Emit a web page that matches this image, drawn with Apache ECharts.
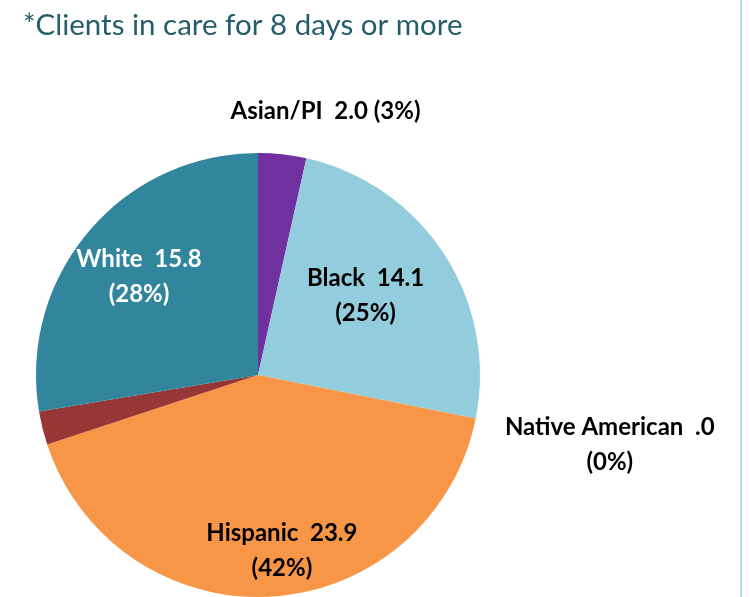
<!DOCTYPE html>
<html>
<head>
<meta charset="utf-8">
<script src="https://cdn.jsdelivr.net/npm/echarts@6/dist/echarts.min.js"></script>
<style>
html,body{margin:0;padding:0;background:#fff;}
#chart{width:750px;height:597px;}
</style>
</head>
<body>
<div id="chart"></div>
<script>
// ---- data ----
const categories = ['Asian/PI', 'Black', 'Native American', 'Hispanic', 'Other', 'White'];
const values = [2.0, 14.1, 0.0, 23.9, 1.4, 15.8];
const valueLabels = ['2.0', '14.1', '.0', '23.9', '', '15.8'];
const showLabel = [true, true, true, true, false, true];
const titleText = '*Clients in care for 8 days or more';

// ---- styles ----
const colors = ['#7030A0', '#93CDDD', '#4F81BD', '#F79646', '#953735', '#31859C'];
const labelColors = ['#000', '#000', '#000', '#000', '#000', '#fff'];
const labelShift = [[55, -150], [12, -17], [240, 47], [17, 62], [0, 0], [-32, -25]];
const oneLine = [true, false, false, false, false, false];

const chart = echarts.init(document.getElementById('chart'), null, {renderer: 'canvas'});
const data = categories.map((c, i) => ({
  name: c,
  value: values[i],
  itemStyle: {color: colors[i]},
  label: {show: showLabel[i], color: labelColors[i]}
}));

chart.setOption({
  animation: false,
  title: {
    text: titleText,
    left: 18, top: 5,
    textStyle: {fontFamily: 'Lato', fontWeight: 'normal', fontSize: 29.5, color: '#245D6B'}
  },
  graphic: [{
    type: 'rect', shape: {x: 740, y: 0, width: 2, height: 597},
    style: {fill: '#B7DDE8'}, silent: true
  }],
  series: [{
    type: 'pie',
    center: [258, 375],
    radius: 222,
    startAngle: 90,
    clockwise: true,
    avoidLabelOverlap: false,
    percentPrecision: 0,
    silent: true,
    itemStyle: {borderWidth: 0},
    label: {
      show: true,
      position: 'inside',
      fontFamily: 'Lato',
      fontWeight: 'bold',
      fontSize: 24,
      lineHeight: 35,
      align: 'center',
      formatter: p => oneLine[p.dataIndex]
        ? p.name + '  ' + valueLabels[p.dataIndex] + ' (' + p.percent + '%)'
        : p.name + '  ' + valueLabels[p.dataIndex] + '\n(' + p.percent + '%)'
    },
    labelLine: {show: false},
    labelLayout: p => ({dx: labelShift[p.dataIndex][0], dy: labelShift[p.dataIndex][1]}),
    data: data
  }]
});
</script>
</body>
</html>
